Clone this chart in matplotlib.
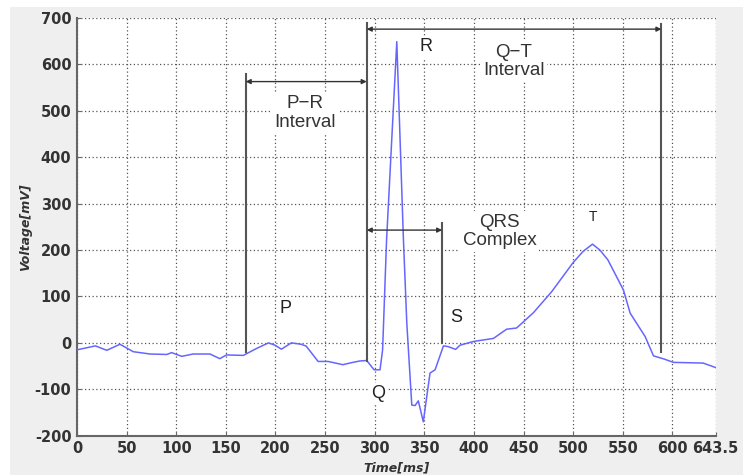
import matplotlib
matplotlib.use("Agg")
import matplotlib.pyplot as plt
from matplotlib.patches import Rectangle

plt.rcParams["axes.unicode_minus"] = False

# ECG trace (ms, mV)
time_ms = [0, 18.6, 30, 43.3, 56.7, 73.6, 90.4, 95.4, 105.5, 117, 134, 144, 150.6, 167.6,
           181, 193, 199.5, 206, 216, 226, 231, 243, 253, 268, 278, 285, 292, 299.4, 305.4,
           308, 312, 322.3, 329, 332.4, 337.4, 340.7, 344, 349, 355.8, 360.9, 369.3, 374,
           381.6, 386, 399.5, 419.7, 433, 443, 460, 478.5, 500, 510, 519.5, 527, 535, 550.7,
           557.5, 572.6, 581, 592, 601, 631, 643.5]
voltage = [-15, -6.5, -16, -3, -19, -24, -25, -21, -29, -24, -24, -34, -26, -27,
           -12, 0, -5, -13.6, 0, -3, -7, -40, -40, -47, -42, -39, -38, -58, -58,
           -15, 222, 649, 222, 42, -134, -135, -125, -170, -65, -58, -6.5, -8,
           -14, -5, 3, 9.6, 29.5, 32, 65, 110.6, 173, 197, 212.7, 200, 179, 114,
           64, 13.6, -28, -35, -42, -43.5, -53]

x_ticks = [0, 50, 100, 150, 200, 250, 300, 350, 400, 450, 500, 550, 600, 643.5]
x_tick_labels = ["0", "50", "100", "150", "200", "250", "300", "350", "400", "450",
                 "500", "550", "600", "643.5"]
y_ticks = [-200, -100, 0, 100, 200, 300, 400, 500, 600, 700]

# annotation geometry (ms / mV)
vline_x = [170, 292, 589, 368]
vline_ymin = [-20, -40, -19, 0]
vline_ymax = [580, 690, 687, 258]
interval_names = ["P\u2212R\nInterval", "Q\u2212T\nInterval", "QRS\nComplex"]
interval_start = [170, 292, 292]
interval_end = [292, 589, 368]
interval_y = [563, 676, 243]
interval_text_x = [230, 440, 426]
interval_text_y = [495, 606, 240]
wave_names = ["P", "Q", "R", "S", "T"]
wave_x = [210, 303, 352, 382, 520]
wave_y = [75, -110, 638, 54, 272]
wave_sizes = [13, 13, 13, 13, 10]

fig = plt.figure(figsize=(7.43, 4.75), dpi=100, facecolor="white")
fig.patches.append(Rectangle((10 / 743, 0), 1, 1 - 7 / 475, transform=fig.transFigure,
                             facecolor="#efefef", edgecolor="none", zorder=-10))
ax = fig.add_axes([77 / 743, 1 - 435.7 / 475, (715.5 - 77) / 743, (435.7 - 18) / 475])
ax.set_facecolor("white")

ax.plot(time_ms, voltage, color="#6666ff", lw=1.1, zorder=3)

ax.set_xlim(0, 643.5)
ax.set_ylim(-200, 700)
ax.set_xticks(x_ticks)
ax.set_xticklabels(x_tick_labels)
ax.set_yticks(y_ticks)
ax.grid(True, color="#555555", linestyle=(0, (1, 2)), lw=0.9)
ax.set_axisbelow(True)
for s in ["top", "right"]:
    ax.spines[s].set_visible(False)
for s in ["left", "bottom"]:
    ax.spines[s].set_color("#666666")
    ax.spines[s].set_linewidth(1.5)
ax.tick_params(direction="in", length=3, color="#666666", labelcolor="#333333", pad=4)
for lab in ax.get_xticklabels() + ax.get_yticklabels():
    lab.set_fontweight("bold")
    lab.set_fontsize(10.5)
ax.set_xlabel("Time[ms]", fontsize=9, fontweight="bold", fontstyle="italic", color="#333333",
              labelpad=4)
ax.set_ylabel("Voltage[mV]", fontsize=9, fontweight="bold", fontstyle="italic", color="#333333",
              labelpad=2)

for x, y0, y1 in zip(vline_x, vline_ymin, vline_ymax):
    ax.plot([x, x], [y0, y1], color="#555555", lw=1.5, zorder=4)

for name, xs, xe, y, tx, ty in zip(interval_names, interval_start, interval_end, interval_y,
                                   interval_text_x, interval_text_y):
    ax.annotate("", xy=(xs, y), xytext=(xe, y),
                arrowprops=dict(arrowstyle="<|-|>", color="#333333", lw=1.0,
                                mutation_scale=7, shrinkA=0, shrinkB=0), zorder=5)
    ax.text(tx, ty, name, ha="center", va="center", fontsize=13.5, color="#333333",
            family="Liberation Sans", linespacing=1.1, zorder=2,
            bbox=dict(facecolor="white", edgecolor="none", pad=2))

for name, x, y, fs in zip(wave_names, wave_x, wave_y, wave_sizes):
    ax.text(x, y, name, ha="center", va="center", fontsize=fs, color="#222222",
            family="Liberation Sans", zorder=2,
            bbox=dict(facecolor="white", edgecolor="none", pad=2))

fig.savefig("out.png", dpi=100, facecolor=fig.get_facecolor())
